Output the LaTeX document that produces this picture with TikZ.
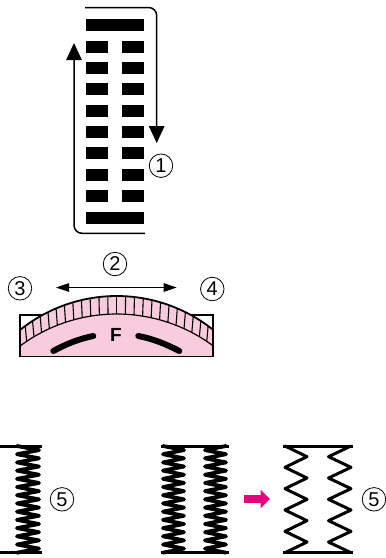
\documentclass[tikz,border=0pt]{standalone}
\usepackage{fontspec}
\setmainfont{Liberation Sans}
\usetikzlibrary{arrows.meta}
\definecolor{dialpink}{HTML}{F8CCDC}
\definecolor{arrowpink}{HTML}{E6007E}
\tikzset{
  bar/.style={fill=black,draw=none},
  num/.style={circle,draw=black,line width=0.8pt,minimum size=23.5pt,inner sep=0pt,font=\fontsize{20}{20}\selectfont},
  route/.style={line width=1.5pt,rounded corners=8pt},
  bighead/.style={-{Triangle[length=17pt,width=15.5pt]}},
  stitch/.style={line join=round,line cap=round},
  rail/.style={line width=3pt},
}
% zigzag: line width, x start, x turn, number of cycles
\newcommand{\zigzag}[4]{%
  \draw[stitch,line width=#1] (#2,446)
  \foreach \k in {1,...,#4}{
    -- (#3,{446+(\k-0.5)*106.7/#4}) -- (#2,{446+\k*106.7/#4})
  };
}
\begin{document}
\begin{tikzpicture}[x=1pt,y=-1pt]
\useasboundingbox (0,0) rectangle (386,558);
% stitch pattern
\path[bar] (86,19) rectangle (144,31);
\foreach \yy in {41,62,83.3,104.7,126,147,169,190}{
  \path[bar] (86,\yy) rectangle (108,\yy+12);
  \path[bar] (122,\yy) rectangle (144,\yy+12);
}
\path[bar] (86,212) rectangle (144,224);
\coordinate (rs) at (85,7.5);
\coordinate (rc) at (156.7,7.5);
\coordinate (re) at (156.7,143);
\coordinate (ls) at (145,233.3);
\coordinate (lc) at (74,233.3);
\coordinate (le) at (74,43);
\draw[route,bighead] (rs) -- (rc) -- (re);
\draw[route,bighead] (ls) -- (lc) -- (le);
\node[num] (n1) at (161,165.7) {1};
% dial
\draw[line width=1.8pt,fill=white] (20,315) rectangle (213.3,356.5);
\fill[dialpink] plot[domain=-38.75:38.75,samples=50] ({116.7+154.5*sin(\x)},{450.5-154.5*cos(\x)}) -- (213.3,356.5) -- (20,356.5) -- cycle;
\foreach \i in {-11,...,11}{
  \draw[line width=1.1pt] ({116.7+154.5*sin(\i*3.3)},{450.5-154.5*cos(\i*3.3)}) -- ({116.7+162*sin(\i*3.07)},{476-162*cos(\i*3.07)});
}
\draw[line width=1.8pt] plot[domain=-38.75:38.75,samples=50] ({116.7+154.5*sin(\x)},{450.5-154.5*cos(\x)});
\draw[line width=1.2pt] plot[domain=-36.6:36.6,samples=50] ({116.7+162*sin(\x)},{476-162*cos(\x)});
\draw[line width=1.8pt] (20,315) -- (20,356.5) -- (213.3,356.5) -- (213.3,315);
\draw[line width=6pt,line cap=round] (53.3,351) .. controls (66,344) and (80,338.5) .. (93.3,336);
\draw[line width=6pt,line cap=round] (179.3,351) .. controls (166,344) and (152,338.5) .. (138.3,336);
\node[font=\fontsize{19}{19}\selectfont\bfseries] (f) at (116,335) {F};
\coordinate (al) at (56,287.5);
\coordinate (ar) at (176.7,287.5);
\draw[line width=0.9pt,{Triangle[length=13pt,width=8.5pt]}-{Triangle[length=13pt,width=8.5pt]}] (al) -- (ar);
\node[num] (n2) at (115,264) {2};
\node[num] (n3) at (20,288.3) {3};
\node[num] (n4) at (212.3,289) {4};
% bottom left
\draw[rail] (0,446) -- (42,446);
\draw[rail] (0,552.7) -- (42,552.7);
\zigzag{3.8pt}{17}{39}{13}
\node[num] (n5a) at (62,499.3) {5};
% bottom middle
\draw[rail] (160.7,446) -- (229.3,446);
\draw[rail] (160.7,552.7) -- (229.3,552.7);
\zigzag{3.8pt}{163}{184}{13}
\zigzag{3.8pt}{226}{205}{13}
% pink arrow
\coordinate (ps) at (244,499);
\coordinate (pe) at (270,499);
\draw[arrowpink,line width=8pt,-{Triangle[length=9.5pt,width=18pt]}] (ps) -- (pe);
% bottom right
\draw[rail] (283,446) -- (352.7,446);
\draw[rail] (283,552.7) -- (352.7,552.7);
\zigzag{3pt}{285}{307}{5}
\zigzag{3pt}{351}{328.5}{5}
\node[num] (n5b) at (374,499.3) {5};
\end{tikzpicture}
\end{document}
